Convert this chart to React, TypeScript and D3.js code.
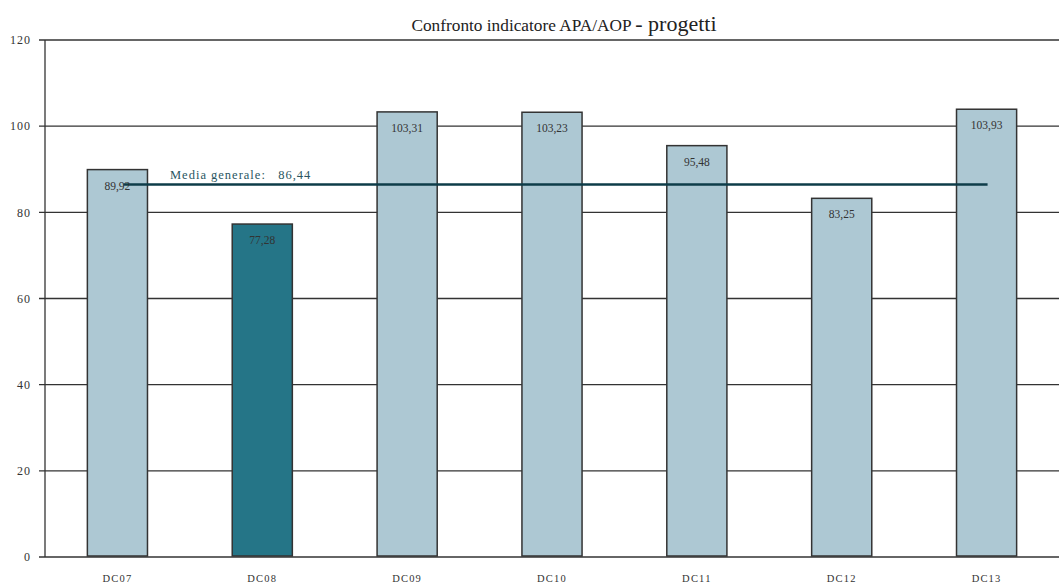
import React from "react";
import * as d3 from "d3";

const categories = ["DC07", "DC08", "DC09", "DC10", "DC11", "DC12", "DC13"];
const values = [89.92, 77.28, 103.31, 103.23, 95.48, 83.25, 103.93];
const highlighted = ["DC08"];
const mediaGenerale = 86.44;
const yTicks = [0, 20, 40, 60, 80, 100, 120];

const W = 1059;
const H = 584;
const left = 45;
const right = 1059;
const top = 40;
const bottom = 557;

const fmt = (v: number) => v.toFixed(2).replace(".", ",");
const serif = "'Liberation Serif', 'DejaVu Serif', serif";

export default function App() {
  const x = d3
    .scaleBand<string>()
    .domain(categories)
    .range([left, right])
    .paddingInner(0.585)
    .paddingOuter(0.2925);
  const y = d3.scaleLinear().domain([0, 120]).range([bottom, top]);

  const first = categories[0];
  const last = categories[categories.length - 1];
  const meanX1 = (x(first) ?? 0) + x.bandwidth() / 2 + 6;
  const meanX2 = (x(last) ?? 0) + x.bandwidth() / 2 + 1;

  return (
    <svg
      width={W}
      height={H}
      style={{ position: "absolute", left: 0, top: 0, background: "#fff" }}
      fontFamily={serif}
    >
      {/* title */}
      <text x={564} y={31} textAnchor="middle" fill="#222">
        <tspan fontSize={17.3}>Confronto indicatore APA/AOP </tspan>
        <tspan fontSize={22}>- progetti</tspan>
      </text>

      {/* gridlines and y ticks */}
      {yTicks.map((t) => (
        <g key={t}>
          <line x1={left - 6} x2={right} y1={y(t)} y2={y(t)} stroke="#333" strokeWidth={1.3} />
          <text
            x={31}
            y={y(t)}
            dy="0.35em"
            textAnchor="end"
            fontSize={12}
            fill="#333"
            letterSpacing={1}
          >
            {t}
          </text>
        </g>
      ))}
      <line x1={left} x2={left} y1={top} y2={bottom} stroke="#333" strokeWidth={1.3} />

      {/* bars */}
      {categories.map((c, i) => {
        const bx = x(c) ?? 0;
        const by = y(values[i]);
        return (
          <rect
            key={c}
            x={bx}
            y={by}
            width={x.bandwidth()}
            height={bottom - 1 - by}
            fill={highlighted.includes(c) ? "#257587" : "#adc8d3"}
            stroke="#333"
            strokeWidth={1.5}
          />
        );
      })}

      {/* average line */}
      <line
        x1={meanX1}
        x2={meanX2}
        y1={y(mediaGenerale)}
        y2={y(mediaGenerale)}
        stroke="#0e3c49"
        strokeWidth={2.5}
      />
      <text x={170} y={y(mediaGenerale) - 6} fontSize={12.5} fill="#2a5661" letterSpacing={1}>
        {`Media generale:\u00a0\u00a0\u00a0${fmt(mediaGenerale)}`}
      </text>

      {/* value labels */}
      {categories.map((c, i) => (
        <text
          key={c}
          x={(x(c) ?? 0) + x.bandwidth() / 2}
          y={y(values[i]) + 20}
          textAnchor="middle"
          fontSize={11.5}
          fill="#333"
        >
          {fmt(values[i])}
        </text>
      ))}

      {/* category labels */}
      {categories.map((c) => (
        <text
          key={c}
          x={(x(c) ?? 0) + x.bandwidth() / 2}
          y={582}
          textAnchor="middle"
          fontSize={10.5}
          fill="#333"
          letterSpacing={1.2}
        >
          {c}
        </text>
      ))}
    </svg>
  );
}
